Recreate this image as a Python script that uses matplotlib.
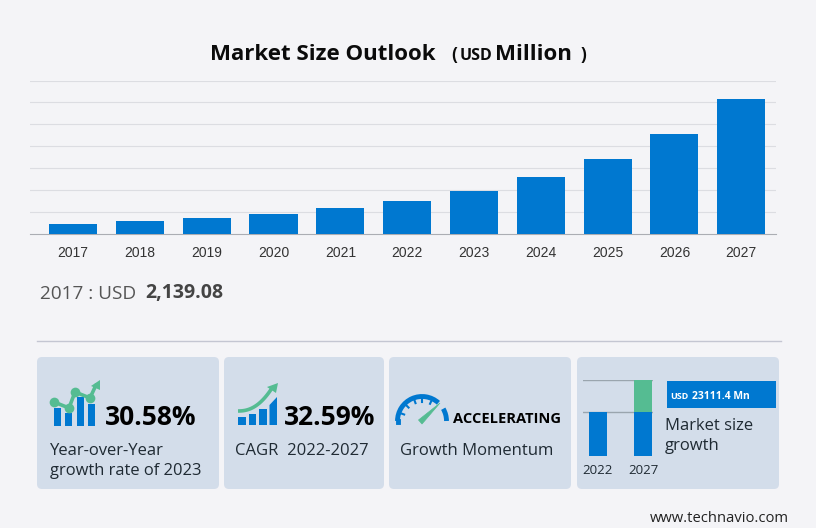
import numpy as np
import matplotlib
matplotlib.use('Agg')
import matplotlib.pyplot as plt
from matplotlib.patches import FancyBboxPatch, Rectangle, Polygon, Arc

years = ['2017','2018','2019','2020','2021','2022','2023','2024','2025','2026','2027']
market_size = [2139.08, 2790, 3560, 4480, 5850, 7450, 9730, 12950, 17060, 22780, 30700]
grid_vals = [5000, 10000, 15000, 20000, 25000, 30000, 35000]

mini_years = ['2022', '2027']
mini_base = [44, 44]
mini_growth = [0, 32]

BG = '#F4F4F7'
CARD = '#D3DDEA'
BLUE = '#0078D0'
GREEN = '#55BC92'
W, H = 816, 528

plt.rcParams['font.family'] = ['Open Sans', 'DejaVu Sans']

fig = plt.figure(figsize=(W/100, H/100), dpi=100, facecolor=BG)

# overlay in pixel coords for cards, icons and text
bg = fig.add_axes([0, 0, 1, 1])
bg.set_xlim(0, W)
bg.set_ylim(H, 0)
bg.axis('off')

def axes_px(x0, y0, x1, y1):
    a = fig.add_axes([x0/W, 1-y1/H, (x1-x0)/W, (y1-y0)/H])
    a.patch.set_alpha(0)
    return a

def txt(x, y, s, size, weight='normal', color='#1c1c1c', ha='left', **kw):
    bg.text(x, y, s, fontsize=size, fontweight=weight, color=color, ha=ha, va='baseline', **kw)

# main chart
ax = axes_px(30, 80.5, 776, 233.5)
x = np.arange(len(years))
ax.bar(x, market_size, width=0.72, color=BLUE, zorder=3)
ax.set_xlim(-0.644, 10.52)
ax.set_ylim(0, 35000)
ax.set_yticks(grid_vals)
ax.set_yticklabels([])
ax.set_xticks(x)
ax.set_xticklabels(years, fontsize=10, family='Liberation Sans', color='#333333')
ax.tick_params(axis='both', length=0)
ax.tick_params(axis='x', pad=9)
ax.grid(axis='y', color='#DCDDE2', lw=0.8, zorder=0)
for s in ['top', 'left', 'right']:
    ax.spines[s].set_visible(False)
ax.spines['bottom'].set_color('#ABADB3')

# title
txt(210, 60, 'Market Size Outlook', 16, 'bold', '#0b0b0b')
txt(451, 60, '(', 12.5, 'bold', '#0b0b0b')
txt(460, 60, 'USD', 11.5, 'bold', '#0b0b0b')
txt(495, 60, 'Million', 16, 'bold', '#0b0b0b')
txt(581, 60, ')', 12.5, 'bold', '#0b0b0b')

txt(40, 299, '2017 : USD', 13.7, color='#555555')
txt(145, 298, '2,139.08', 14, 'bold', '#444444')

bg.plot([37, 781], [341, 341], color='#C4C6D2', lw=1)

# cards
for x0, x1 in [(37, 219), (224, 384), (389, 571), (577, 779)]:
    bg.add_patch(FancyBboxPatch((x0+4, 357+4), x1-x0-8, 132-8,
                                boxstyle='round,pad=4,rounding_size=5', fc=CARD, ec='none'))

# card 1
for x0, top in [(54, 408), (65, 413), (77, 397), (88, 404)]:
    bg.add_patch(Rectangle((x0, top), 6.5, 426-top, fc=BLUE, ec='none'))
lx = [54, 69, 75, 90, 96]
ly = [402, 408, 392, 398, 385]
bg.plot(lx, ly, color=GREEN, lw=2.6, solid_capstyle='round')
bg.plot(lx[:4], ly[:4], 'o', color=GREEN, ms=7, mec='none')
bg.add_patch(Polygon([[91, 386], [100, 380], [100, 390]], fc=GREEN, ec='none'))
txt(105, 425, '30.58%', 19, 'bold', '#000000')
txt(50, 455, 'Year-over-Year', 12, color='#1f2a33')
txt(50, 475, 'growth rate of 2023', 11.9, color='#1f2a33')

# card 2
for xa, xb, ya, yb in [(238, 246, 417, 417), (248.5, 256, 414, 414), (259, 266.5, 409, 409), (269.5, 277, 405, 397)]:
    bg.add_patch(Polygon([[xa, 425], [xb, 425], [xb, yb], [xa, ya]], fc=BLUE, ec='none'))
t = np.linspace(0, 1, 30)
bg.plot(238 + 34*t, 411 - 23*t**2.3, color=GREEN, lw=2.6, solid_capstyle='butt')
bg.add_patch(Polygon([[267, 387], [278, 383], [276, 393]], fc=GREEN, ec='none'))
txt(284, 425, '32.59%', 19, 'bold', '#000000')
txt(235, 455, 'CAGR  2022-2027', 12, color='#1f2a33')

# card 3
bg.add_patch(Arc((422, 421), 49, 49, theta1=180, theta2=312, color=BLUE, lw=3.5))
bg.add_patch(Arc((422, 421), 49, 49, theta1=330, theta2=360, color=BLUE, lw=3.5))
bg.plot([397.5, 397.5], [421, 422], color=BLUE, lw=3.5)
for ang in np.radians([200, 225, 250, 270, 295]):
    bg.plot([422+23*np.cos(ang), 422+19*np.cos(ang)], [421+23*np.sin(ang), 421+19*np.sin(ang)], color=BLUE, lw=1.5)
bg.add_patch(Polygon([[418.5, 420], [422, 424], [440, 403]], fc=GREEN, ec=GREEN, lw=0.5))
txt(453, 423, 'ACCELERATING', 10.5, 'bold', '#000000')
txt(400, 455, 'Growth Momentum', 12, color='#1f2a33')

# card 4, small before/after chart
mini = axes_px(583, 380, 653, 456)
mx = np.arange(2)
mini.bar(mx, mini_base, width=0.38, color=BLUE, zorder=2)
mini.bar(mx, mini_growth, bottom=mini_base, width=0.38, color=GREEN, zorder=2)
mini.set_xlim(-0.333, 1.222)
mini.set_ylim(0, 76)
mini.set_yticks([44, 76])
mini.set_yticklabels([])
mini.set_xticks(mx)
mini.set_xticklabels(mini_years, fontsize=9.5, color='#1f2a33')
mini.tick_params(axis='both', length=0)
mini.tick_params(axis='x', pad=6)
mini.grid(axis='y', color='#9AA5AE', lw=1, zorder=3)
for s in mini.spines.values():
    s.set_visible(False)

bg.add_patch(Rectangle((667, 381), 109, 27, fc=BLUE, ec='none'))
txt(670, 399, 'USD', 6.5, 'bold', 'white')
txt(692, 399, '23111.4 Mn', 7.5, 'bold', 'white')
txt(665, 430, 'Market size', 12, color='#1f2a33')
txt(665, 450, 'growth', 12, color='#1f2a33')

txt(650, 522, 'www.technavio.com', 10.6, color='#222222')

fig.savefig('out.png', dpi=100, facecolor=BG)
